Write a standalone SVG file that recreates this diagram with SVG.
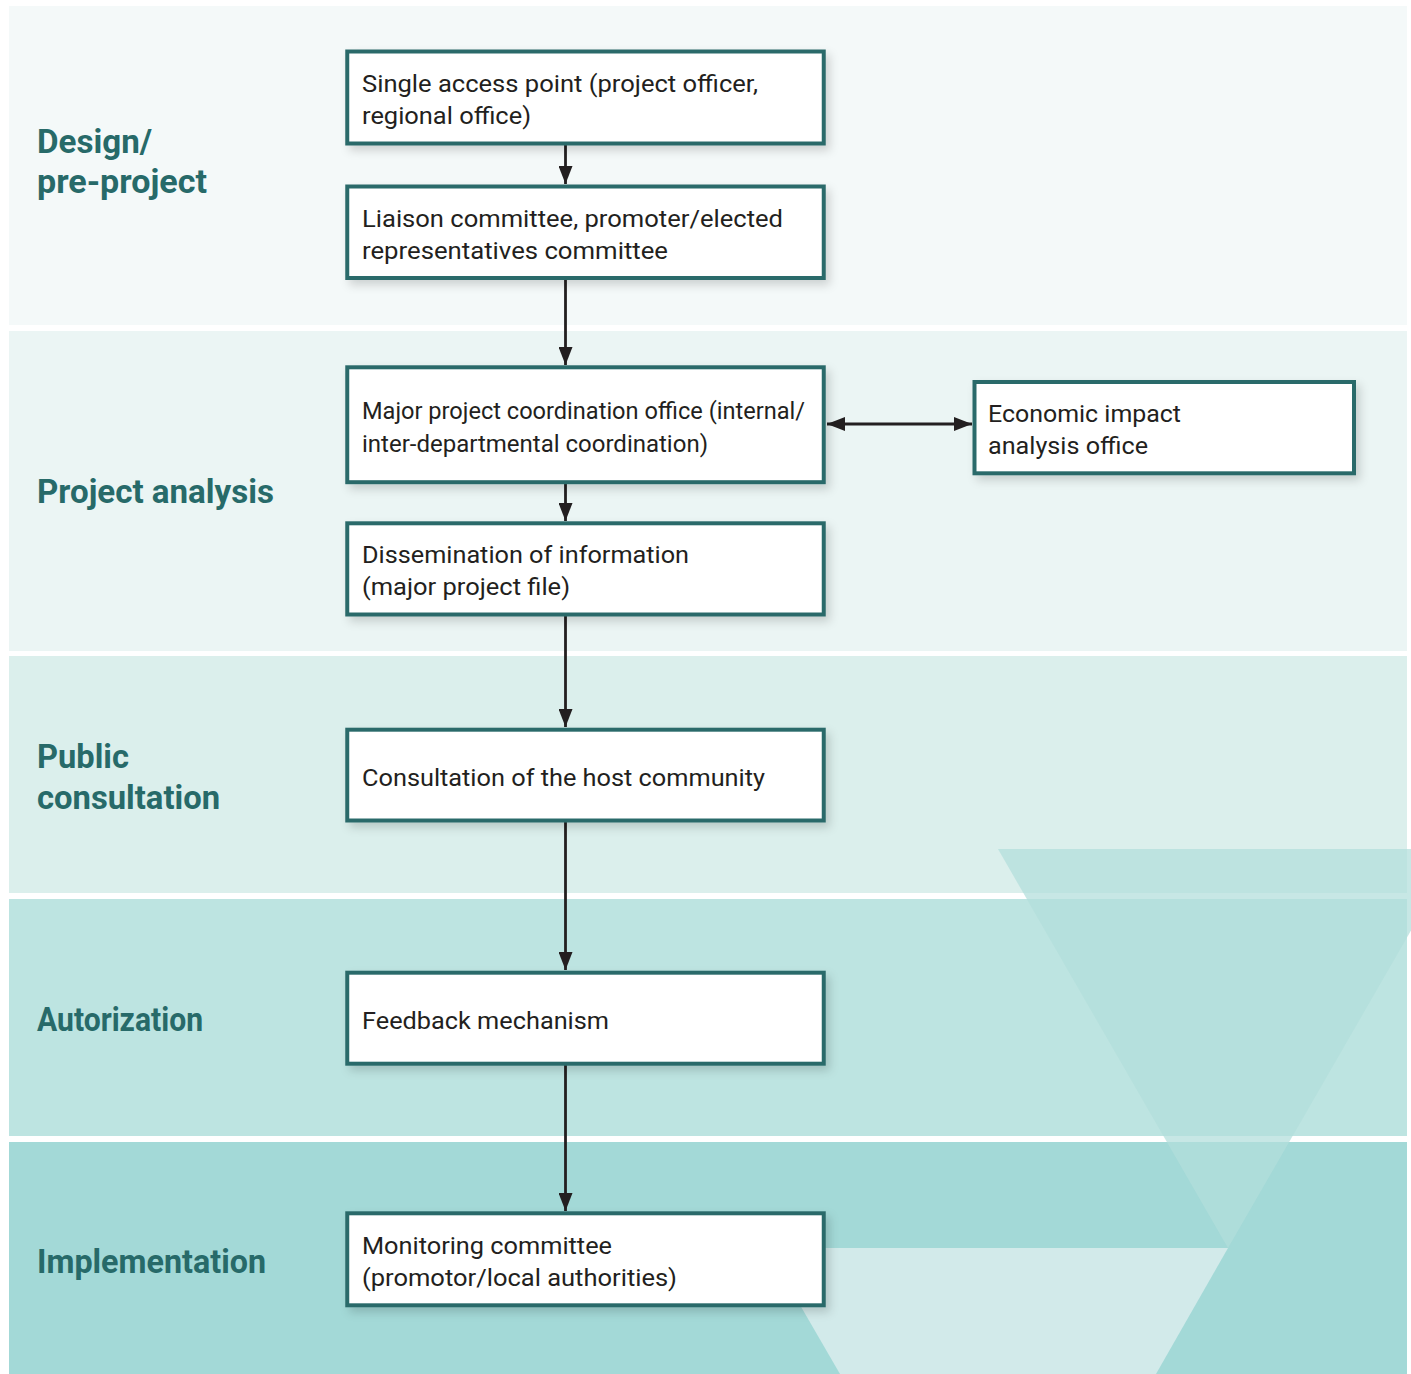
<svg xmlns="http://www.w3.org/2000/svg" width="1411" height="1374" viewBox="0 0 1411 1374">
  <defs>
    <style>
      .band { stroke: none; }
      .label { font-family: Roboto, "Liberation Sans", sans-serif; font-weight: 700; font-size: 34px; fill: #276a69; }
      .box { fill: #ffffff; stroke: #2b6b6b; stroke-width: 4; filter: url(#shadow); }
      .txt { font-family: Roboto, "Liberation Sans", sans-serif; font-weight: 400; font-size: 24px; fill: #231f20; }
      .conn { stroke: #231f20; stroke-width: 2.8; fill: none; }
    </style>
    <filter id="shadow" x="-10%" y="-20%" width="125%" height="150%">
      <feDropShadow dx="4" dy="5" stdDeviation="5" flood-color="#000000" flood-opacity="0.16"/>
    </filter>
    <marker id="arrow" viewBox="0 0 18 14" refX="18" refY="7" markerWidth="18" markerHeight="14" markerUnits="userSpaceOnUse" orient="auto-start-reverse">
      <path d="M0,0 L18,7 L0,14 z" fill="#231f20"/>
    </marker>
  </defs>

  <g id="background">
    <rect class="band" x="9" y="6" width="1398" height="319" fill="#f4f9f9"/>
    <rect class="band" x="9" y="331" width="1398" height="320" fill="#ebf5f4"/>
    <rect class="band" x="9" y="656" width="1398" height="237" fill="#dbefec"/>
    <rect class="band" x="9" y="899" width="1398" height="237" fill="#bde4e1"/>
    <rect class="band" x="9" y="1142" width="1398" height="232" fill="#a3d9d7"/>
    <polygon points="998,849 1458,849 1228,1248" fill="#b2dedc" opacity="0.73"/>
    <polygon points="767,1248 1228,1248 1156,1374 840,1374" fill="#d2eaea"/>
  </g>

  <g id="stage-labels">
    <text class="label" x="37" y="153" textLength="115" lengthAdjust="spacingAndGlyphs">Design/</text>
    <text class="label" x="37" y="193" textLength="170" lengthAdjust="spacingAndGlyphs">pre-project</text>
    <text class="label" x="37" y="503" textLength="237" lengthAdjust="spacingAndGlyphs">Project analysis</text>
    <text class="label" x="37" y="768" textLength="92" lengthAdjust="spacingAndGlyphs">Public</text>
    <text class="label" x="37" y="809" textLength="183" lengthAdjust="spacingAndGlyphs">consultation</text>
    <text class="label" x="37" y="1031" textLength="166" lengthAdjust="spacingAndGlyphs">Autorization</text>
    <text class="label" x="37" y="1273" textLength="229" lengthAdjust="spacingAndGlyphs">Implementation</text>
  </g>

  <g id="connectors">
    <line class="conn" x1="565.5" y1="145" x2="565.5" y2="184" marker-end="url(#arrow)"/>
    <line class="conn" x1="565.5" y1="280" x2="565.5" y2="365" marker-end="url(#arrow)"/>
    <line class="conn" x1="565.5" y1="484" x2="565.5" y2="521" marker-end="url(#arrow)"/>
    <line class="conn" x1="565.5" y1="616" x2="565.5" y2="727" marker-end="url(#arrow)"/>
    <line class="conn" x1="565.5" y1="822" x2="565.5" y2="970" marker-end="url(#arrow)"/>
    <line class="conn" x1="565.5" y1="1065" x2="565.5" y2="1211" marker-end="url(#arrow)"/>
    <line class="conn" x1="827" y1="424" x2="972" y2="424" marker-start="url(#arrow)" marker-end="url(#arrow)"/>
  </g>

  <g id="node-single-access">
    <rect class="box" x="347.25" y="51.5" width="476.5" height="92"/>
    <text class="txt" x="362" y="92" textLength="396" lengthAdjust="spacingAndGlyphs">Single access point (project officer,</text>
    <text class="txt" x="362" y="124" textLength="169" lengthAdjust="spacingAndGlyphs">regional office)</text>
  </g>

  <g id="node-liaison">
    <rect class="box" x="347.25" y="186.5" width="476.5" height="91.5"/>
    <text class="txt" x="362" y="227" textLength="421" lengthAdjust="spacingAndGlyphs">Liaison committee, promoter/elected</text>
    <text class="txt" x="362" y="259" textLength="306" lengthAdjust="spacingAndGlyphs">representatives committee</text>
  </g>

  <g id="node-major-project">
    <rect class="box" x="347.25" y="367.3" width="476.5" height="114.9"/>
    <text class="txt" x="362" y="419" textLength="443" lengthAdjust="spacingAndGlyphs">Major project coordination office (internal/</text>
    <text class="txt" x="362" y="451.5" textLength="346" lengthAdjust="spacingAndGlyphs">inter-departmental coordination)</text>
  </g>

  <g id="node-economic-impact">
    <rect class="box" x="974.5" y="382" width="379.5" height="91.3"/>
    <text class="txt" x="988" y="422" textLength="193" lengthAdjust="spacingAndGlyphs">Economic impact</text>
    <text class="txt" x="988" y="454" textLength="160" lengthAdjust="spacingAndGlyphs">analysis office</text>
  </g>

  <g id="node-dissemination">
    <rect class="box" x="347.25" y="523.3" width="476.5" height="91.2"/>
    <text class="txt" x="362" y="562.5" textLength="327" lengthAdjust="spacingAndGlyphs">Dissemination of information</text>
    <text class="txt" x="362" y="594.5" textLength="208" lengthAdjust="spacingAndGlyphs">(major project file)</text>
  </g>

  <g id="node-consultation">
    <rect class="box" x="347.25" y="729.7" width="476.5" height="90.8"/>
    <text class="txt" x="362" y="786" textLength="403" lengthAdjust="spacingAndGlyphs">Consultation of the host community</text>
  </g>

  <g id="node-feedback">
    <rect class="box" x="347.25" y="972.7" width="476.5" height="91"/>
    <text class="txt" x="362" y="1029" textLength="247" lengthAdjust="spacingAndGlyphs">Feedback mechanism</text>
  </g>

  <g id="node-monitoring">
    <rect class="box" x="347.25" y="1213.3" width="476.5" height="92"/>
    <text class="txt" x="362" y="1254" textLength="250" lengthAdjust="spacingAndGlyphs">Monitoring committee</text>
    <text class="txt" x="362" y="1286" textLength="315" lengthAdjust="spacingAndGlyphs">(promotor/local authorities)</text>
  </g>
</svg>
